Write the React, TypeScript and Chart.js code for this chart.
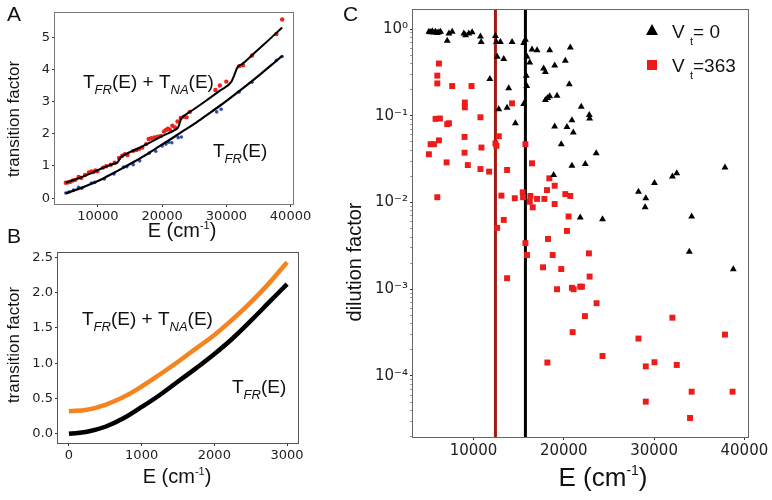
import React, { useEffect, useRef } from 'react';
import { Chart, registerables } from 'chart.js';
Chart.register(...registerables);

const SANS = '"Liberation Sans", Arial, sans-serif';
const TICKF = '"DejaVu Sans", sans-serif';

// ---------------- Panel A data ----------------
const aFitTotalE = [5000, 7000, 9000, 11000, 12500, 13000, 13500, 14000, 16000, 18000, 20000, 22000, 22500, 23000, 23500, 25000, 27000, 29000, 30800, 31200, 31700, 32500, 34000, 36000, 38700];
const aFitTotalV = [0.48, 0.62, 0.78, 0.96, 1.07, 1.10, 1.25, 1.33, 1.52, 1.72, 1.93, 2.12, 2.20, 2.48, 2.57, 2.77, 3.05, 3.34, 3.62, 3.80, 4.05, 4.17, 4.44, 4.80, 5.30];
const aFitFRE = [5000, 7000, 9000, 11000, 13000, 15000, 17000, 19000, 21000, 23000, 25000, 27000, 29000, 31000, 33000, 35000, 37000, 38700];
const aFitFRV = [0.15, 0.29, 0.45, 0.63, 0.84, 1.06, 1.29, 1.54, 1.79, 2.05, 2.31, 2.59, 2.87, 3.17, 3.48, 3.80, 4.13, 4.42];
const aRedE = [5000, 5300, 5700, 6100, 6500, 7000, 7400, 8000, 8600, 9000, 9300, 9600, 9900, 10800, 11300, 12000, 12600, 13300, 13800, 14200, 14600, 15500, 16000, 16400, 16900, 17500, 17900, 18300, 18800, 19300, 19800, 20300, 20600, 20900, 21200, 21600, 22000, 22400, 22900, 23400, 23800, 24300, 28300, 29000, 30000, 32000, 32600, 34000, 37800, 38700];
const aRedV = [0.48, 0.49, 0.51, 0.55, 0.57, 0.66, 0.63, 0.72, 0.80, 0.83, 0.81, 0.86, 0.84, 0.95, 0.99, 1.04, 1.10, 1.25, 1.32, 1.37, 1.34, 1.47, 1.50, 1.53, 1.57, 1.68, 1.84, 1.86, 1.89, 1.91, 1.93, 2.07, 2.12, 2.16, 2.13, 2.25, 2.20, 2.38, 2.49, 2.53, 2.51, 2.68, 3.36, 3.50, 3.62, 4.10, 4.13, 4.43, 5.10, 5.55];
const aBlueE = [5000, 5500, 6200, 7000, 7500, 9000, 9500, 11000, 12500, 14000, 14500, 15500, 16500, 18000, 19000, 20000, 20600, 21000, 21500, 22500, 23000, 28500, 29200, 32000, 34000, 37800, 38700];
const aBlueV = [0.16, 0.19, 0.25, 0.34, 0.31, 0.47, 0.49, 0.60, 0.75, 0.97, 0.98, 1.04, 1.16, 1.40, 1.46, 1.62, 1.68, 1.74, 1.72, 1.88, 1.90, 2.68, 2.76, 3.30, 3.60, 4.28, 4.40];
const aXTicks = [10000, 20000, 30000, 40000];
const aXTickLabels = ['10000', '20000', '30000', '40000'];
const aYTicks = [0, 1, 2, 3, 4, 5];
const aYTickLabels = ['0', '1', '2', '3', '4', '5'];

// ---------------- Panel B data ----------------
const bE = [0, 250, 500, 750, 1000, 1250, 1500, 1750, 2000, 2250, 2500, 2750, 3000];
const bTotal = [0.32, 0.34, 0.41, 0.52, 0.67, 0.84, 1.02, 1.21, 1.40, 1.62, 1.86, 2.13, 2.43];
const bFR = [0.00, 0.03, 0.10, 0.22, 0.38, 0.55, 0.74, 0.93, 1.13, 1.35, 1.60, 1.86, 2.12];
const bXTicks = [0, 1000, 2000, 3000];
const bXTickLabels = ['0', '1000', '2000', '3000'];
const bYTicks = [0, 0.5, 1, 1.5, 2, 2.5];
const bYTickLabels = ['0.0', '0.5', '1.0', '1.5', '2.0', '2.5'];

// ---------------- Panel C data ----------------
const cBlackE = [5060, 5250, 5430, 5620, 5800, 5990, 6170, 6350, 7090, 7280, 7640, 8930, 9120, 9480, 9850, 10770, 10850, 12430, 12540, 12980, 14270, 15560, 15750, 16480, 17040, 18440, 20720, 12620, 13350, 15930, 16230, 20170, 18990, 17770, 17960, 11810, 20610, 13900, 15850, 15900, 17960, 18200, 18440, 19250, 15560, 13720, 12800, 21930, 22820, 22860, 20900, 14640, 18990, 20350, 21050, 19720, 23590, 20900, 22380, 18880, 37850, 32510, 32030, 30040, 28270, 29080, 29010, 34160, 21820, 24290, 33900, 38770];
const cBlackV = [0.93, 0.92, 0.94, 0.91, 0.93, 0.90, 0.92, 0.93, 0.73, 0.89, 0.93, 0.89, 0.85, 0.89, 0.92, 0.82, 0.71, 0.83, 0.71, 0.71, 0.71, 0.69, 0.75, 0.58, 0.57, 0.57, 0.61, 0.48, 0.45, 0.48, 0.41, 0.43, 0.38, 0.35, 0.32, 0.265, 0.23, 0.207, 0.29, 0.22, 0.152, 0.16, 0.168, 0.17, 0.137, 0.124, 0.119, 0.127, 0.102, 0.093, 0.089, 0.082, 0.075, 0.074, 0.064, 0.047, 0.037, 0.0266, 0.0278, 0.0207, 0.0254, 0.0217, 0.0199, 0.0168, 0.0133, 0.0112, 0.0088, 0.0069, 0.0067, 0.0064, 0.0027, 0.0017];
const cRedE = [6170, 5990, 5990, 7640, 9780, 9040, 9040, 14270, 5800, 6280, 10770, 7090, 7280, 12800, 9010, 6170, 5250, 5620, 5060, 10880, 12430, 12540, 15750, 9010, 7020, 9370, 16480, 10770, 11730, 13720, 18400, 18990, 18140, 5990, 13090, 14570, 15450, 15490, 16300, 16230, 16560, 17040, 17850, 18990, 20170, 20720, 20530, 13350, 12620, 20350, 18250, 15750, 15930, 18770, 22780, 17700, 19720, 13720, 22860, 19250, 20900, 21090, 21820, 22010, 23630, 22340, 32030, 20980, 28270, 37850, 24290, 18180, 29080, 30040, 32510, 34160, 38690, 29080, 33980];
const cRedV = [0.40, 0.29, 0.236, 0.22, 0.22, 0.142, 0.125, 0.139, 0.092, 0.093, 0.096, 0.080, 0.082, 0.058, 0.057, 0.052, 0.047, 0.047, 0.036, 0.043, 0.048, 0.045, 0.047, 0.0375, 0.029, 0.027, 0.0283, 0.0243, 0.0227, 0.0237, 0.019, 0.0156, 0.0139, 0.0115, 0.012, 0.0112, 0.0131, 0.0115, 0.0119, 0.0102, 0.0088, 0.011, 0.011, 0.0096, 0.0125, 0.0119, 0.0069, 0.0063, 0.0051, 0.0047, 0.0038, 0.0034, 0.00248, 0.00248, 0.00259, 0.00179, 0.00171, 0.00134, 0.0014, 0.0010, 0.00104, 0.0010, 0.00107, 0.00107, 0.00069, 0.00049, 0.00047, 0.00032, 0.00027, 0.00030, 0.00017, 0.000143, 0.000129, 0.000144, 0.000134, 0.0000659, 0.0000659, 0.0000506, 0.0000328];
const cThresholds = [12430, 15750];
const cXTicks = [10000, 20000, 30000, 40000];
const cXTickLabels = ['10000', '20000', '30000', '40000'];
const cYTicks = [1, 0.1, 0.01, 0.001, 0.0001];
const cYTickLabels = ['10\u2070', '10\u207B\u00B9', '10\u207B\u00B2', '10\u207B\u00B3', '10\u207B\u2074'];

// ---------------- helpers ----------------
type Seg = { t: string; size: number; dy?: number; italic?: boolean; family?: string };
type TextItem = { x: number; y: number; segs: Seg[]; align?: 'left' | 'center' | 'right'; rot?: number; baseline?: CanvasTextBaseline; color?: string };

function drawRich(ctx: CanvasRenderingContext2D, it: TextItem) {
  ctx.save();
  ctx.translate(it.x, it.y);
  if (it.rot) ctx.rotate(it.rot);
  ctx.fillStyle = it.color || '#111';
  ctx.textBaseline = it.baseline || 'alphabetic';
  ctx.textAlign = 'left';
  const font = (s: Seg) => `${s.italic ? 'italic ' : ''}${s.size}px ${s.family || SANS}`;
  let w = 0;
  for (const s of it.segs) { ctx.font = font(s); w += ctx.measureText(s.t).width; }
  let x = it.align === 'center' ? -w / 2 : it.align === 'right' ? -w : 0;
  for (const s of it.segs) {
    ctx.font = font(s);
    ctx.fillText(s.t, x, s.dy || 0);
    x += ctx.measureText(s.t).width;
  }
  ctx.restore();
}

const TFR_TNA = (z: number): Seg[] => [
  { t: 'T', size: z }, { t: 'FR', size: Math.round(z * 0.68), italic: true, dy: z * 0.3 },
  { t: '(E) + T', size: z }, { t: 'NA', size: Math.round(z * 0.68), italic: true, dy: z * 0.3 },
  { t: '(E)', size: z },
];
const TFR = (z: number): Seg[] => [
  { t: 'T', size: z }, { t: 'FR', size: Math.round(z * 0.68), italic: true, dy: z * 0.3 }, { t: '(E)', size: z },
];
const ECM = (z: number): Seg[] => [
  { t: 'E (cm', size: z }, { t: '-1', size: Math.round(z * 0.55), dy: -z * 0.42 }, { t: ')', size: z },
];

function overlay(items: TextItem[], extra?: (ctx: CanvasRenderingContext2D) => void) {
  return {
    id: 'overlayText',
    afterDraw(chart: any) {
      const ctx = chart.ctx as CanvasRenderingContext2D;
      items.forEach((it) => drawRich(ctx, it));
      if (extra) extra(ctx);
    },
  };
}

const framePlugin = (color: string) => ({
  id: 'frame',
  afterDatasetsDraw(chart: any) {
    const { left, top, right, bottom } = chart.chartArea;
    const ctx = chart.ctx as CanvasRenderingContext2D;
    ctx.save();
    ctx.strokeStyle = color;
    ctx.lineWidth = 1;
    ctx.strokeRect(Math.round(left) - 0.5, Math.round(top) - 0.5, Math.round(right - left) + 1, Math.round(bottom - top) + 1);
    ctx.restore();
  },
});

function axis(opts: {
  type?: string; min: number; max: number; ticks: number[]; labels: string[]; minor?: number[];
  axis: 'x' | 'y'; size: number; font: number;
}) {
  const all = opts.minor ? [...opts.ticks, ...opts.minor] : opts.ticks;
  return {
    type: opts.type || 'linear',
    min: opts.min,
    max: opts.max,
    grid: {
      drawOnChartArea: false,
      drawTicks: true,
      tickLength: 3,
      tickWidth: 1,
      tickColor: (c: any) => (c.tick && opts.ticks.indexOf(c.tick.value) < 0 ? '#999' : '#333'),
    },
    border: { display: false },
    ticks: {
      autoSkip: false,
      maxRotation: 0,
      minRotation: 0,
      padding: 2,
      color: '#222',
      font: { family: TICKF, size: opts.font },
      callback: (v: any) => {
        const i = opts.ticks.indexOf(Number(v));
        return i >= 0 ? opts.labels[i] : '';
      },
    },
    afterBuildTicks: (s: any) => {
      s.ticks = all.map((v) => ({ value: v }));
    },
    afterFit: (s: any) => {
      if (opts.axis === 'x') { s.height = opts.size; s.paddingLeft = 0; s.paddingRight = 0; }
      else { s.width = opts.size; s.paddingTop = 0; s.paddingBottom = 0; }
    },
  };
}

const baseOptions = (padding: any, scales: any) => ({
  responsive: false,
  animation: false,
  devicePixelRatio: 1,
  events: [],
  layout: { padding },
  plugins: { legend: { display: false }, tooltip: { enabled: false }, title: { display: false } },
  scales,
});

const pts = (xs: number[], ys: number[]) => xs.map((x, i) => ({ x, y: ys[i] }));

function configA(): any {
  return {
    type: 'scatter',
    data: {
      datasets: [
        { data: pts(aRedE, aRedV), pointRadius: 2.2, pointBackgroundColor: '#f0201c', pointBorderWidth: 0, order: 2 },
        { data: pts(aBlueE, aBlueV), pointRadius: 1.8, pointBackgroundColor: '#2f4fc0', pointBorderWidth: 0, order: 2 },
        { data: pts(aFitTotalE, aFitTotalV), showLine: true, borderColor: '#000', borderWidth: 2, pointRadius: 0, cubicInterpolationMode: 'monotone', order: 1 },
        { data: pts(aFitFRE, aFitFRV), showLine: true, borderColor: '#000', borderWidth: 2.2, pointRadius: 0, cubicInterpolationMode: 'monotone', order: 1 },
      ],
    },
    options: baseOptions({ left: 0, top: 13, right: 27, bottom: 0 }, {
      x: axis({ min: 3315, max: 40385, ticks: aXTicks, labels: aXTickLabels, axis: 'x', size: 41, font: 13 }),
      y: axis({ min: -0.18, max: 5.75, ticks: aYTicks, labels: aYTickLabels, axis: 'y', size: 55, font: 13 }),
    }),
    plugins: [
      framePlugin('#777'),
      overlay([
        { x: 7, y: 21, segs: [{ t: 'A', size: 21 }] },
        { x: 14, y: 119, rot: -Math.PI / 2, align: 'center', baseline: 'middle', segs: [{ t: 'transition factor', size: 17 }] },
        { x: 182, y: 237, align: 'center', segs: ECM(20) },
        { x: 83, y: 88, segs: TFR_TNA(19) },
        { x: 213, y: 157, segs: TFR(19) },
      ]),
    ],
  };
}

function configB(): any {
  return {
    type: 'scatter',
    data: {
      datasets: [
        { data: pts(bE, bTotal), showLine: true, borderColor: '#f5841f', borderWidth: 4.5, pointRadius: 0, tension: 0.4 },
        { data: pts(bE, bFR), showLine: true, borderColor: '#000', borderWidth: 4.5, pointRadius: 0, tension: 0.4 },
      ],
    },
    options: baseOptions({ left: 0, top: 31, right: 22, bottom: 0 }, {
      x: axis({ min: -150, max: 3150, ticks: bXTicks, labels: bXTickLabels, axis: 'x', size: 57, font: 13 }),
      y: axis({ min: -0.13, max: 2.56, ticks: bYTicks, labels: bYTickLabels, axis: 'y', size: 58, font: 13 }),
    }),
    plugins: [
      framePlugin('#555'),
      overlay([
        { x: 7, y: 21, segs: [{ t: 'B', size: 21 }] },
        { x: 14, y: 123, rot: -Math.PI / 2, align: 'center', baseline: 'middle', segs: [{ t: 'transition factor', size: 17 }] },
        { x: 177, y: 261, align: 'center', segs: ECM(20) },
        { x: 82, y: 103, segs: TFR_TNA(19) },
        { x: 232, y: 171, segs: TFR(19) },
      ]),
    ],
  };
}

function configC(): any {
  const minor: number[] = [];
  for (let e = -5; e <= 0; e++) {
    for (let m = 2; m <= 9; m++) {
      const v = m * Math.pow(10, e);
      if (v >= 2e-5 && v <= 1.66) minor.push(v);
    }
  }
  const thresholdColors = ['#9e1a12', '#000'];
  const lines = cThresholds.map((x, i) => ({
    data: [{ x, y: 1e-7 }, { x, y: 100 }],
    showLine: true,
    borderColor: thresholdColors[i],
    borderWidth: 3,
    pointRadius: 0,
    clip: 0,
    order: 3,
  }));
  return {
    type: 'scatter',
    data: {
      datasets: [
        ...lines,
        { data: pts(cBlackE, cBlackV), pointStyle: 'triangle', pointRadius: 4, pointBackgroundColor: '#000', pointBorderWidth: 0, order: 1 },
        { data: pts(cRedE, cRedV), pointStyle: 'rect', pointRadius: 4.2, pointBackgroundColor: '#ee1b1b', pointBorderWidth: 0, order: 2 },
      ],
    },
    options: baseOptions({ left: 0, top: 10, right: 24, bottom: 0 }, {
      x: axis({ min: 3300, max: 40400, ticks: cXTicks, labels: cXTickLabels, axis: 'x', size: 63, font: 15 }),
      y: axis({ type: 'logarithmic', min: 1.98e-5, max: 1.656, ticks: cYTicks, labels: cYTickLabels, minor, axis: 'y', size: 78, font: 15 }),
    }),
    plugins: [
      framePlugin('#666'),
      overlay([
        { x: 8, y: 21, segs: [{ t: 'C', size: 21 }] },
        { x: 20, y: 262, rot: -Math.PI / 2, align: 'center', baseline: 'middle', segs: [{ t: 'dilution factor', size: 20 }] },
        { x: 268, y: 486, align: 'center', segs: ECM(26) },
        { x: 337, y: 38, segs: [{ t: 'V ', size: 19 }, { t: 't', size: 11, dy: 7 }, { t: '= 0', size: 19 }] },
        { x: 337, y: 72, segs: [{ t: 'V ', size: 19 }, { t: 't', size: 11, dy: 7 }, { t: '=363', size: 19 }] },
      ], (ctx) => {
        // legend symbols
        ctx.save();
        ctx.fillStyle = '#000';
        ctx.beginPath();
        ctx.moveTo(317, 24); ctx.lineTo(323, 35); ctx.lineTo(311, 35); ctx.closePath();
        ctx.fill();
        ctx.fillStyle = '#ee1b1b';
        ctx.fillRect(312, 60, 10, 10);
        ctx.restore();
      }),
    ],
  };
}

export default function App() {
  const aRef = useRef<HTMLCanvasElement>(null);
  const bRef = useRef<HTMLCanvasElement>(null);
  const cRef = useRef<HTMLCanvasElement>(null);
  useEffect(() => {
    const charts = [
      new Chart(aRef.current as HTMLCanvasElement, configA()),
      new Chart(bRef.current as HTMLCanvasElement, configB()),
      new Chart(cRef.current as HTMLCanvasElement, configC()),
    ];
    return () => charts.forEach((c) => c.destroy());
  }, []);
  return (
    <div style={{ position: 'fixed', left: 0, top: 0, width: 772, height: 500, background: '#fff', overflow: 'hidden' }}>
      <canvas ref={aRef} width={320} height={245} style={{ position: 'absolute', left: 0, top: 0, width: 320, height: 245 }} />
      <canvas ref={bRef} width={320} height={278} style={{ position: 'absolute', left: 0, top: 222, width: 320, height: 278 }} />
      <canvas ref={cRef} width={437} height={500} style={{ position: 'absolute', left: 335, top: 0, width: 437, height: 500 }} />
    </div>
  );
}
